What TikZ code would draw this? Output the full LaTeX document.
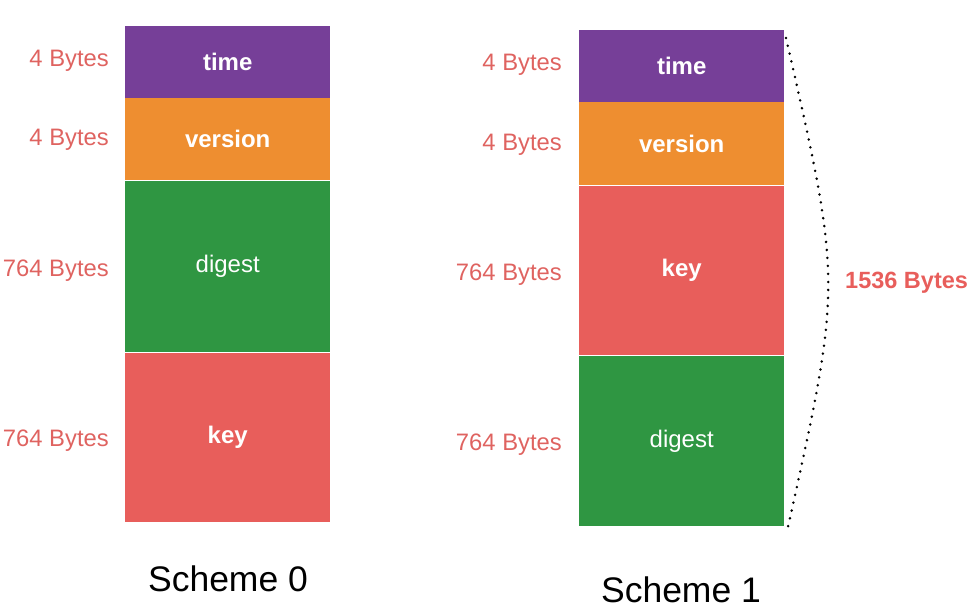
\documentclass[tikz,border=0pt]{standalone}
\usepackage{fontspec}
\setmainfont{Liberation Sans}
\usepackage{tikz}
\usetikzlibrary{positioning}
\definecolor{timecol}{HTML}{763F98}
\definecolor{versioncol}{HTML}{EE8E30}
\definecolor{digestcol}{HTML}{2F9642}
\definecolor{keycol}{HTML}{E85E5B}
\definecolor{sizecol}{HTML}{DF6360}
\begin{document}
\begin{tikzpicture}[x=1pt, y=-1pt,
        field/.style={anchor=north west, inner sep=0pt, minimum width=205pt,
            text=white, font=\fontsize{24}{26}\selectfont},
        size/.style={anchor=east, inner sep=0pt, text=sizecol,
            font=\fontsize{23.8}{26}\selectfont},
        caption/.style={inner sep=0pt, font=\fontsize{35.5}{38}\selectfont}]
        \useasboundingbox (0, 0) rectangle (974, 613);
        % Scheme 0
        \node [field, fill=timecol, minimum height=72pt] (time0) at (125, 26) {\bfseries time};
        \node [field, fill=versioncol, minimum height=82pt] (version0) at (125, 98) {\bfseries version};
        \node [field, fill=digestcol, minimum height=171pt] (digest0) at (125, 181) {digest};
        \node [field, fill=keycol, minimum height=169pt] (key0) at (125, 353) {\bfseries key};
        % Scheme 1
        \node [field, fill=timecol, minimum height=72pt] (time1) at (579, 30) {\bfseries time};
        \node [field, fill=versioncol, minimum height=83pt] (version1) at (579, 102) {\bfseries version};
        \node [field, fill=keycol, minimum height=169pt] (key1) at (579, 186) {\bfseries key};
        \node [field, fill=digestcol, minimum height=170pt] (digest1) at (579, 356) {digest};
        % Sizes
        \node [size] (stime0) at (109, 61) {4 Bytes};
        \node [size] (sversion0) at (109, 140) {4 Bytes};
        \node [size] (sdigest0) at (109, 271) {764 Bytes};
        \node [size] (skey0) at (109, 441) {764 Bytes};
        \node [size] (stime1) at (562, 65) {4 Bytes};
        \node [size] (sversion1) at (562, 145) {4 Bytes};
        \node [size] (skey1) at (562, 275) {764 Bytes};
        \node [size] (sdigest1) at (562, 445) {764 Bytes};
        % Captions
        \node [caption] (scheme0) at (228, 579) {Scheme 0};
        \node [caption] (scheme1) at (681, 590) {Scheme 1};
        % Total
        \coordinate (top) at (786, 38);
        \coordinate (bottom) at (788, 527);
        \draw [line width=2.8pt, line cap=round, dash pattern=on 0pt off 8pt]
            (top) .. controls (842, 283) .. (bottom);
        \node [anchor=west, inner sep=0pt, text=keycol, font=\bfseries\fontsize{23.5}{26}\selectfont]
            (total) at (845, 283) {1536 Bytes};
    \end{tikzpicture}
\end{document}
